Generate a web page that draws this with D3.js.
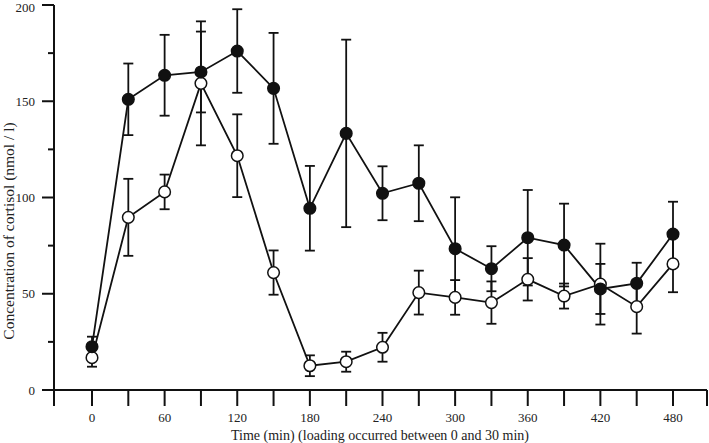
<!DOCTYPE html>
<html>
<head>
<meta charset="utf-8">
<script src="https://cdn.jsdelivr.net/npm/d3@7"></script>
<style>
  body { margin: 0; background: #fff; }
  text { font-family: "Liberation Serif", "DejaVu Serif", serif; fill: #222; }
</style>
</head>
<body>
<script>
// time points (min)
const times = [0, 30, 60, 90, 120, 150, 180, 210, 240, 270, 300, 330, 360, 390, 420, 450, 480];
// filled circles: mean and error
const filledMean = [22.5, 151, 163.5, 165.2, 176.1, 156.7, 94.4, 133.3, 102.2, 107.4, 73.4, 63, 79.1, 75.3, 52.5, 55.4, 81];
const filledErr = [5.2, 18.6, 21, 21, 21.7, 28.8, 22, 48.7, 14, 19.7, 26.7, 11.7, 24.8, 21.5, 13, 10.7, 16.8];
// open circles: mean and error
const openMean = [16.8, 89.7, 102.9, 159.3, 121.7, 61, 12.6, 14.7, 22.2, 50.6, 48.1, 45.4, 57.5, 48.8, 55, 43.3, 65.5];
const openErr = [4.7, 20, 9, 32.2, 21.5, 11.5, 5.4, 5.2, 7.5, 11.4, 9, 11, 11, 6.5, 21, 14, 14.7];

const xTicks = d3.range(0, 481, 30);
const xLabels = d3.range(0, 481, 60);
const yTicks = d3.range(0, 201, 25);
const yLabels = d3.range(0, 201, 50);

const width = 709;
const height = 443;
const axisX = 54;       // y axis position
const axisEndX = 707;   // right end of x axis
const tickLen = 16;

const x = d3.scaleLinear().domain([0, 480]).range([92, 673]);
const y = d3.scaleLinear().domain([0, 200]).range([390, 5]);

const svg = d3.select('body').append('svg')
  .attr('width', width)
  .attr('height', height);

const ink = '#111';

// y axis
svg.append('line')
  .attr('x1', axisX).attr('x2', axisX)
  .attr('y1', y(200)).attr('y2', y(0) + tickLen)
  .attr('stroke', ink).attr('stroke-width', 2);
svg.selectAll(null)
  .data(yTicks)
  .enter()
  .append('line')
  .attr('x1', d => d % 50 === 0 ? axisX - 12 : axisX - 6)
  .attr('x2', axisX)
  .attr('y1', d => y(d)).attr('y2', d => y(d))
  .attr('stroke', ink).attr('stroke-width', 2);
svg.selectAll(null)
  .data(yLabels)
  .enter()
  .append('text')
  .attr('x', 35)
  .attr('y', d => Math.max(y(d), 7)) // keep the top label inside the frame
  .attr('dy', '0.35em')
  .attr('text-anchor', 'end')
  .attr('font-size', '13px')
  .text(d => d);

// x axis
svg.append('line')
  .attr('x1', axisX).attr('x2', axisEndX)
  .attr('y1', y(0)).attr('y2', y(0))
  .attr('stroke', ink).attr('stroke-width', 2);
svg.append('line')
  .attr('x1', axisEndX).attr('x2', axisEndX)
  .attr('y1', y(0)).attr('y2', y(0) + tickLen)
  .attr('stroke', ink).attr('stroke-width', 2);
svg.selectAll(null)
  .data(xTicks)
  .enter()
  .append('line')
  .attr('x1', d => x(d)).attr('x2', d => x(d))
  .attr('y1', y(0)).attr('y2', y(0) + tickLen)
  .attr('stroke', ink).attr('stroke-width', 2);
svg.selectAll(null)
  .data(xLabels)
  .enter()
  .append('text')
  .attr('x', d => x(d))
  .attr('y', 422)
  .attr('text-anchor', 'middle')
  .attr('font-size', '13px')
  .text(d => d);

svg.append('text')
  .attr('x', 380)
  .attr('y', 440)
  .attr('text-anchor', 'middle')
  .attr('font-size', '14px')
  .text('Time (min) (loading occurred between 0 and 30 min)');

svg.append('text')
  .attr('transform', 'rotate(-90)')
  .attr('x', -231)
  .attr('y', 14)
  .attr('text-anchor', 'middle')
  .attr('font-size', '15.5px')
  .text('Concentration of cortisol (nmol / l)');

const series = [
  { mean: openMean, err: openErr, fill: '#fff' },
  { mean: filledMean, err: filledErr, fill: ink }
];

const cap = 5;
const plot = svg.append('g');

// error bars
series.forEach(s => {
  const pts = times.map((t, i) => ({ t, m: s.mean[i], e: s.err[i] }));
  const g = plot.append('g');
  g.selectAll(null).data(pts).enter().append('line')
    .attr('x1', d => x(d.t)).attr('x2', d => x(d.t))
    .attr('y1', d => y(d.m + d.e)).attr('y2', d => y(d.m - d.e))
    .attr('stroke', ink).attr('stroke-width', 1.8);
  [1, -1].forEach(sign => {
    g.selectAll(null).data(pts).enter().append('line')
      .attr('x1', d => x(d.t) - cap).attr('x2', d => x(d.t) + cap)
      .attr('y1', d => y(d.m + sign * d.e)).attr('y2', d => y(d.m + sign * d.e))
      .attr('stroke', ink).attr('stroke-width', 1.8);
  });
});

// lines
series.forEach(s => {
  plot.append('path')
    .datum(times.map((t, i) => ({ t, m: s.mean[i] })))
    .attr('fill', 'none')
    .attr('stroke', ink)
    .attr('stroke-width', 1.8)
    .attr('d', d3.line().x(d => x(d.t)).y(d => y(d.m)));
});

// markers
series.forEach(s => {
  plot.selectAll(null)
    .data(times.map((t, i) => ({ t, m: s.mean[i] })))
    .enter()
    .append('circle')
    .attr('cx', d => x(d.t))
    .attr('cy', d => y(d.m))
    .attr('r', 5.8)
    .attr('fill', s.fill)
    .attr('stroke', ink)
    .attr('stroke-width', 1.5);
});
</script>
</body>
</html>
